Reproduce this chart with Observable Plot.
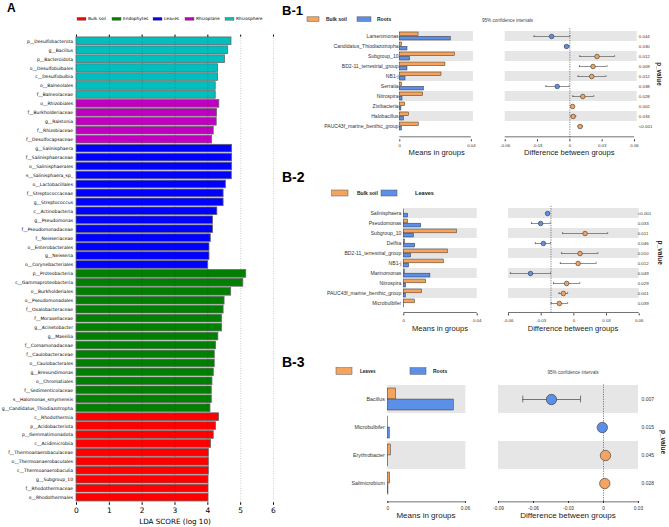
<!DOCTYPE html>
<html><head><meta charset="utf-8">
<script src="https://cdn.jsdelivr.net/npm/d3@7"></script>
<script src="https://cdn.jsdelivr.net/npm/@observablehq/plot@0.6"></script>
<style>
body{margin:0;background:#fff;width:669px;height:527px;overflow:hidden;position:relative}
.layer{position:absolute;left:0;top:0}
</style></head><body>
<script>
// ---------- Panel A data (LEfSe LDA) ----------
const ldaClasses = ["Bulk soil","Endophytes","Leaves","Rhizoplane","Rhizosphere"];
const ldaColors = ["#FF0000","#008000","#0000FF","#C000C0","#00BFBF"];
const ldaNames = [
 "p__Desulfobacterota","g__Bacillus","p__Bacteroidota","o__Desulfobulbales","c__Desulfobulbia","o__Balneolales","f__Balneolaceae",
 "o__Rhizobiales","f__Burkholderiaceae","g__Ralstonia","f__Rhizobiaceae","f__Desulfocapsaceae",
 "g__Salinisphaera","f__Salinisphaeraceae","o__Salinisphaerales","s__Salinisphaera_sp_","o__Lactobacillales","f__Streptococcaceae","g__Streptococcus","c__Actinobacteria","g__Pseudomonas","f__Pseudomonadaceae","f__Neisseriaceae","o__Enterobacterales","g__Neisseria","o__Corynebacteriales",
 "p__Proteobacteria","c__Gammaproteobacteria","o__Burkholderiales","o__Pseudomonadales","f__Oxalobacteraceae","f__Moraxellaceae","g__Acinetobacter","g__Massilia","f__Comamonadaceae","f__Caulobacteraceae","o__Caulobacterales","g__Brevundimonas","o__Chromatiales","f__Sedimenticolaceae","s__Halomonas_smyrnensis","g__Candidatus_Thiodiazotropha",
 "c__Rhodothermia","p__Acidobacteriota","p__Gemmatimonadota","c__Acidimicrobiia","f__Thermoanaerobaculaceae","o__Thermoanaerobaculales","c__Thermoanaerobaculia","g__Subgroup_10","f__Rhodothermaceae","o__Rhodothermales"
];
const ldaScores = [
 4.72,4.62,4.52,4.31,4.31,4.24,4.24,
 4.35,4.28,4.27,4.18,4.13,
 4.74,4.74,4.74,4.73,4.55,4.48,4.48,4.29,4.16,4.16,4.09,4.05,4.05,4.01,
 5.17,5.08,4.71,4.51,4.48,4.43,4.43,4.32,4.25,4.21,4.21,4.18,4.14,4.12,4.12,4.08,
 4.34,4.25,4.18,4.10,4.03,4.03,4.03,4.02,4.02,4.02
];
const ldaClassOf = [
 ...Array(7).fill("Rhizosphere"),...Array(5).fill("Rhizoplane"),...Array(14).fill("Leaves"),...Array(16).fill("Endophytes"),...Array(10).fill("Bulk soil")
];
const ldaTicks = [0,1,2,3,4,5,6];

// ---------- Panel B-1 data (Bulk soil vs Roots) ----------
const b1Groups = ["Bulk soil","Roots"];
const b1Names = ["Larsenimonas","Candidatus_Thiodiazotropha","Subgroup_10","BD2-11_terrestrial_group","NB1-j","Serratia","Nitrospira","Zixibacteria","Halobacillus","PAUC43f_marine_benthic_group"];
const b1MeanA = [0.0105,0.0013,0.0308,0.0255,0.0233,0.0013,0.0131,0.0030,0.0051,0.0107];
const b1MeanB = [0.0285,0.0043,0.0058,0.0043,0.0032,0.0135,0.0015,0.0009,0.0024,0.0011];
const b1Diff = [-0.0169,-0.0031,0.0252,0.0215,0.0203,-0.0117,0.0120,0.0025,0.0031,0.0095];
const b1Lo = [-0.0332,-0.0049,0.0092,0.0089,0.0077,-0.0222,0.0028,0.0015,0.0012,0.0077];
const b1Hi = [0.0000,-0.0006,0.0415,0.0345,0.0335,-0.0006,0.0222,0.0034,0.0055,0.0117];
const b1P = ["0.044","0.030","0.012","0.009","0.012","0.038","0.028","0.002","0.033","<0.001"];
const b1MeanTicks = [0,0.04];
const b1DiffTicks = [-0.06,-0.03,0,0.03,0.06];
const b1Zero = [0];

// ---------- Panel B-2 data (Bulk soil vs Leaves) ----------
const b2Groups = ["Bulk soil","Leaves"];
const b2Names = ["Salinisphaera","Pseudomonas","Subgroup_10","Delftia","BD2-11_terrestrial_group","NB1-j","Marinomonas","Nitrospira","PAUC43f_marine_benthic_group","Microbulbifer"];
const b2MeanA = [0.0002,0.0024,0.0290,0.0007,0.0240,0.0218,0.0005,0.0122,0.0100,0.0060];
const b2MeanB = [0.0024,0.0095,0.0055,0.0062,0.0040,0.0029,0.0145,0.0013,0.0011,0.0002];
const b2Diff = [-0.0241,-0.0305,0.0103,-0.0280,0.0057,0.0039,-0.0398,-0.0066,-0.0096,-0.0133];
const b2Lo = [-0.0253,-0.0389,-0.0103,-0.0353,-0.0112,-0.0124,-0.0582,-0.0187,-0.0136,-0.0208];
const b2Hi = [-0.0229,-0.0217,0.0310,-0.0214,0.0220,0.0205,-0.0214,0.0054,-0.0057,-0.0057];
const b2P = ["<0.001","0.033","0.011","0.046","0.010","0.012","0.049","0.029","0.001","0.039"];
const b2MeanTicks = [0,0.04];
const b2DiffTicks = [-0.06,-0.03,0,0.03,0.06];
const b2Zero = [-0.021];

// ---------- Panel B-3 data (Leaves vs Roots) ----------
const b3Groups = ["Leaves","Roots"];
const b3Names = ["Bacillus","Microbulbifer","Erythrobacter","Salimicrobium"];
const b3MeanA = [0.0064,0.0001,0.0023,0.0018];
const b3MeanB = [0.0510,0.0015,0.0003,0.0005];
const b3Diff = [-0.0446,-0.0010,0.0017,0.0011];
const b3Lo = [-0.0692,-0.0018,0.0008,0.0003];
const b3Hi = [-0.0197,-0.0002,0.0026,0.0019];
const b3P = ["0.007","0.015","0.045","0.028"];
const b3MeanTicks = [0,0.06];
const b3DiffTicks = [-0.09,-0.06,-0.03,0,0.03];
const b3Zero = [0];

// ---------- rendering ----------
const W = 669, H = 527;
const FA = "DejaVu Sans", FB = "Liberation Sans";
const ORANGE = "#F5A460", BLUE = "#5B8FE8", BAND = "#E6E6E6";
const fmt = d => String(+(+d).toFixed(2));

function layer(svg){ svg.classList.add("layer"); document.body.appendChild(svg); }

// Panel A
const ldaData = ldaNames.map((name,i)=>({name, score:ldaScores[i], cls:ldaClassOf[i]}));
layer(Plot.plot({
  width:W, height:H, marginLeft:76, marginRight:W-273, marginTop:35.6, marginBottom:H-502.3,
  style:{background:"transparent", fontFamily:FA, color:"#000", overflow:"visible"},
  x:{domain:[0,6], label:null},
  y:{domain:ldaNames, padding:0.15, label:null},
  color:{domain:ldaClasses, range:ldaColors},
  marks:[
    Plot.gridX({ticks:ldaTicks, stroke:"#999", strokeOpacity:0.8, strokeDasharray:"1,1.5", strokeWidth:0.6}),
    Plot.barX(ldaData,{x:"score", y:"name", fill:"cls", stroke:"#666", strokeWidth:0.8}),
    Plot.gridX({ticks:ldaTicks.slice(1,5), stroke:"#000", strokeOpacity:0.25, strokeDasharray:"1.5,1.5", strokeWidth:0.6}),
    Plot.axisX({anchor:"bottom", ticks:ldaTicks, tickSize:2.5, tickPadding:2, fontSize:7.5, tickFormat:d=>String(d), label:null}),
    Plot.axisX({anchor:"top", ticks:ldaTicks, tickSize:2, tickFormat:()=>"", label:null}),
    Plot.axisY({tickSize:0, tickPadding:3.5, fontSize:4.5, label:null})
  ]
}));

function stamp(c){
  const n = c.names.length, step = (c.rowBottom-c.rowTop)/n;
  const rows = c.names.map((name,i)=>({name, a:c.a[i], b:c.b[i], diff:c.diff[i], lo:c.lo[i], hi:c.hi[i], p:c.p[i], grp: c.a[i] > c.b[i] ? c.groups[0] : c.groups[1]}));
  const even = rows.filter((d,i)=>i%2===0);
  const last = c.names[n-1];
  const lastCenter = c.rowBottom - step/2;
  const common = {
    width:W, height:H, marginTop:c.rowTop, marginBottom:H-c.axisY,
    style:{background:"transparent", fontFamily:FB, color:"#333", overflow:"visible"},
    color:{domain:c.groups, range:[ORANGE,BLUE]}
  };
  // Means in groups
  layer(Plot.plot({...common, marginLeft:c.mx[0], marginRight:W-c.mx[1],
    x:{domain:c.meanDomain, label:null},
    y:{domain:c.names, range:[c.rowTop,c.rowBottom], padding:0, label:null},
    marks:[
      Plot.barX(even,{y:"name", x1:c.meanDomain[0], x2:c.meanDomain[1], fill:BAND}),
      Plot.barX(rows,{y:"name", x:"a", fill:ORANGE, stroke:"#333", strokeWidth:0.5, insetTop:c.barInset, insetBottom:step/2}),
      Plot.barX(rows,{y:"name", x:"b", fill:BLUE, stroke:"#333", strokeWidth:0.5, insetTop:step/2, insetBottom:c.barInset}),
      Plot.ruleY([last],{x1:c.meanTicks[0], x2:c.meanTicks[c.meanTicks.length-1], dy:c.axisY-lastCenter, stroke:"#333", strokeWidth:0.7}),
      Plot.axisX({ticks:c.meanTicks, tickSize:2, tickPadding:c.tickPad, fontSize:c.tickFs, tickFormat:fmt, label:null}),
      Plot.axisY({tickSize:0, tickPadding:c.labelPad, fontSize:c.labelFs, label:null})
    ]
  }));
  // Difference between groups
  layer(Plot.plot({...common, marginLeft:c.dx[0], marginRight:W-c.dx[1],
    x:{domain:c.diffDomain, label:null},
    y:{domain:c.names, range:[c.rowTop,c.rowBottom], padding:0, label:null, axis:null},
    marks:[
      Plot.barX(even,{y:"name", x1:c.diffDomain[0], x2:c.diffDomain[1], fill:BAND}),
      Plot.ruleX(c.zero,{stroke:"#333", strokeWidth:0.6, strokeDasharray:"1.2,1.2"}),
      Plot.ruleY(rows,{y:"name", x1:"lo", x2:"hi", stroke:"#444", strokeWidth:c.ciW}),
      Plot.tickX(rows,{x:"lo", y:"name", insetTop:c.capInset, insetBottom:c.capInset, stroke:"#444", strokeWidth:c.ciW}),
      Plot.tickX(rows,{x:"hi", y:"name", insetTop:c.capInset, insetBottom:c.capInset, stroke:"#444", strokeWidth:c.ciW}),
      Plot.dot(rows,{x:"diff", y:"name", r:c.r, fill:"grp", stroke:"#333", strokeWidth:0.6}),
      Plot.text(rows,{x:c.diffDomain[1], y:"name", text:"p", dx:c.pdx, textAnchor:"start", fontSize:c.pFs, fill:"#333"}),
      Plot.ruleY([last],{x1:c.diffTicks[0], x2:c.diffTicks[c.diffTicks.length-1], dy:c.axisY-lastCenter, stroke:"#333", strokeWidth:0.7}),
      Plot.axisX({ticks:c.diffTicks, tickSize:2, tickPadding:c.tickPad, fontSize:c.tickFs, tickFormat:fmt, label:null})
    ]
  }));
}

stamp({names:b1Names, groups:b1Groups, a:b1MeanA, b:b1MeanB, diff:b1Diff, lo:b1Lo, hi:b1Hi, p:b1P,
  rowTop:28, rowBottom:134.3, axisY:139.3, mx:[399.3,473], meanDomain:[0,0.0412], meanTicks:b1MeanTicks,
  dx:[504.7,636.7], diffDomain:[-0.06,0.0625], diffTicks:b1DiffTicks, zero:b1Zero,
  barInset:1, tickPad:2, tickFs:4.3, labelPad:1.2, labelFs:5.1, r:2.3, capInset:4, ciW:0.6, pdx:1.6, pFs:4.4});
stamp({names:b2Names, groups:b2Groups, a:b2MeanA, b:b2MeanB, diff:b2Diff, lo:b2Lo, hi:b2Hi, p:b2P,
  rowTop:205.8, rowBottom:309.5, axisY:313.3, mx:[403.3,476.7], meanDomain:[0,0.04], meanTicks:b2MeanTicks,
  dx:[508,638.7], diffDomain:[-0.06,0.06], diffTicks:b2DiffTicks, zero:b2Zero,
  barInset:1, tickPad:3, tickFs:4.3, labelPad:2.5, labelFs:5.1, r:2.3, capInset:3.9, ciW:0.6, pdx:-1.5, pFs:4.4});
stamp({names:b3Names, groups:b3Groups, a:b3MeanA, b:b3MeanB, diff:b3Diff, lo:b3Lo, hi:b3Hi, p:b3P,
  rowTop:384.3, rowBottom:496.7, axisY:501, mx:[387.3,465.3], meanDomain:[0,0.0603], meanTicks:b3MeanTicks,
  dx:[498,638], diffDomain:[-0.09,0.03], diffTicks:b3DiffTicks, zero:b3Zero,
  barInset:3, tickPad:2.8, tickFs:4.8, labelPad:3, labelFs:5.3, r:5.2, capInset:10.6, ciW:0.7, pdx:3, pFs:5});

// ---------- annotation overlay (titles, legends) ----------
const ov = d3.select("body").append("svg").attr("class","layer").attr("width",W).attr("height",H);
function txt(s,x,y,o={}){
  const t = ov.append("text").attr("x",x).attr("y",y).attr("dominant-baseline","central")
    .attr("text-anchor",o.anchor||"start").attr("font-size",o.size||5).attr("font-family",o.font||FB)
    .attr("font-weight",o.bold?"bold":null).attr("fill",o.color||"#222").text(s);
  if (o.rotate) t.attr("transform",`rotate(${o.rotate},${x},${y})`);
}
function swatch(x,y,w,h,fill,stroke,sw){ ov.append("rect").attr("x",x).attr("y",y).attr("width",w).attr("height",h).attr("fill",fill).attr("stroke",stroke||"#333").attr("stroke-width",sw||0.5); }

// Panel A
txt("A",7,8,{size:12,bold:true,font:FB,color:"#000"});
const aLeg = [[77,88],[112,123],[153,164],[185,196],[225,236]];
ldaClasses.forEach((k,i)=>{ swatch(aLeg[i][0],17.3,9,3,ldaColors[i],"#666",0.4); txt(k,aLeg[i][1],18.8,{size:4.3,font:FA,color:"#000"}); });
txt("LDA SCORE (log 10)",175,521.7,{anchor:"middle",size:7.2,font:FA,color:"#000"});

// B-1
txt("B-1",282,10,{size:13,bold:true,color:"#000"});
swatch(307,16.8,12,4.6,ORANGE,"#555",0.5); txt(b1Groups[0],326,19,{size:5,bold:true});
swatch(357,16.8,14,4.6,BLUE,"#555",0.5); txt(b1Groups[1],377,19,{size:5,bold:true});
txt("95% confidence intervals",482,20,{size:4.6,color:"#444"});
txt("Means in groups",436.7,152.7,{anchor:"middle",size:7.6,color:"#222"});
txt("Difference between groups",569.3,152.7,{anchor:"middle",size:7.6,color:"#222"});
txt("p_value",659,74,{anchor:"middle",size:6.3,bold:true,rotate:90});

// B-2
txt("B-2",282,176.7,{size:14,bold:true,color:"#000"});
swatch(331.7,190,16.3,6,ORANGE,"#555",0.5); txt(b2Groups[0],357,192.7,{size:5,bold:true});
swatch(381,190,16,6,BLUE,"#555",0.5); txt(b2Groups[1],415,192.7,{size:5.6,bold:true});
txt("Means in groups",440,328.3,{anchor:"middle",size:7.6,color:"#222"});
txt("Difference between groups",573,328.3,{anchor:"middle",size:7.6,color:"#222"});
txt("p_value",660,252.7,{anchor:"middle",size:6.5,bold:true,rotate:90});

// B-3
txt("B-3",282,361.7,{size:14,bold:true,color:"#000"});
swatch(336,367.7,16,6.6,ORANGE,"#555",0.5); txt(b3Groups[0],360,371,{size:4.6,bold:true});
swatch(410,367.7,16,6.6,BLUE,"#555",0.5); txt(b3Groups[1],433,371,{size:5,bold:true});
txt("95% confidence intervals",573,372.3,{anchor:"middle",size:4.6,color:"#444"});
txt("Means in groups",426,515,{anchor:"middle",size:8,color:"#222"});
txt("Difference between groups",568,515,{anchor:"middle",size:8,color:"#222"});
txt("p_value",663.5,442,{anchor:"middle",size:6.5,bold:true,rotate:90});
</script>
</body></html>
